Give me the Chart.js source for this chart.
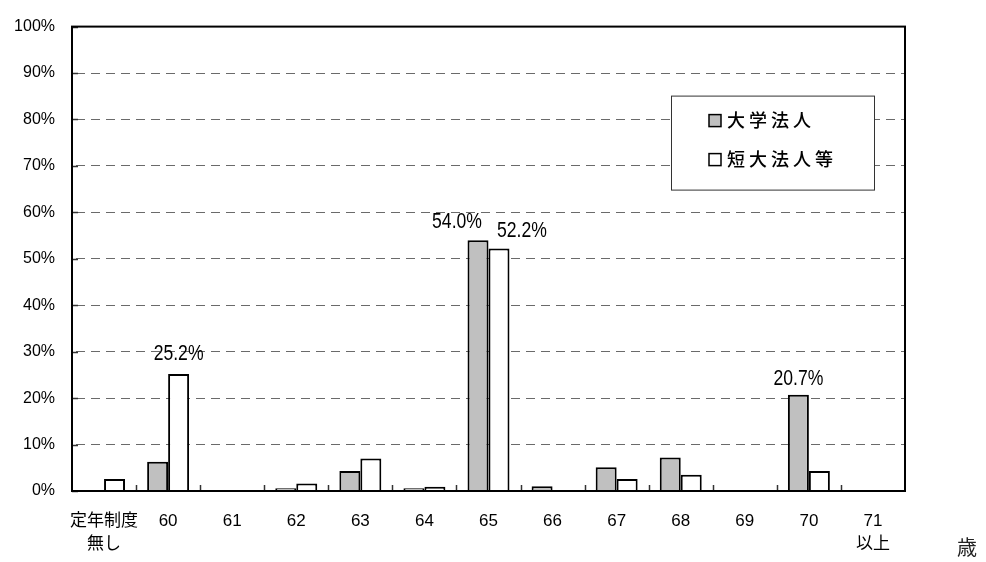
<!DOCTYPE html>
<html lang="ja">
<head>
<meta charset="utf-8">
<title>定年年齢の分布</title>
<script src="https://cdn.jsdelivr.net/npm/chart.js@4/dist/chart.umd.min.js"></script>
<style>
  html, body { margin: 0; padding: 0; background: #fff; }
  #wrap { width: 986px; height: 562px; }
</style>
</head>
<body>
<div id="wrap"><canvas id="c" width="986" height="562"></canvas></div>
<script>
// 定年年齢の区分
const categories = [
  ['定年制度', '無し'], '60', '61', '62', '63', '64', '65', '66', '67', '68', '69', '70', ['71', '以上']
];
// 系列名
const seriesNames = ['大学法人', '短大法人等'];
// 割合（%）
const univValues   = [0, 6.3, 0, 0.6, 4.3, 0.6, 54.0, 1.0, 5.1, 7.2, 0, 20.7, 0.2];
const juniorValues = [2.6, 25.2, 0, 1.6, 7.0, 0.9, 52.2, 0, 2.6, 3.5, 0, 4.3, 0];
// y軸目盛
const yTicks = [0, 10, 20, 30, 40, 50, 60, 70, 80, 90, 100];
// 値を表示する棒（系列番号, 区分番号）
const labelled = [[1, 1], [0, 6], [1, 6], [0, 11]];

const FONT = "'Liberation Sans', 'Noto Sans CJK JP', sans-serif";

// 値ラベルの位置調整
const labelOffsets = { '1-1': [0, 20], '0-6': [-21, 18], '1-6': [23, 18], '0-11': [0, 16] };

const framePlugin = {
  id: 'frame',
  afterDatasetsDraw(chart) {
    const { ctx, chartArea: a, scales } = chart;
    const x = scales.x, y = scales.y;
    ctx.save();
    // 目盛（内向き）
    ctx.strokeStyle = '#333';
    ctx.lineWidth = 1.5;
    for (let i = 1; i < categories.length; i++) {
      const bx = Math.round((x.getPixelForValue(i - 1) + x.getPixelForValue(i)) / 2) + 0.5;
      ctx.beginPath();
      ctx.moveTo(bx, a.bottom);
      ctx.lineTo(bx, a.bottom - 6);
      ctx.stroke();
    }
    yTicks.forEach(v => {
      const py = Math.round(y.getPixelForValue(v)) + 0.5;
      ctx.beginPath();
      ctx.moveTo(a.left, py);
      ctx.lineTo(a.left + 6, py);
      ctx.stroke();
    });
    // 枠線
    ctx.strokeStyle = '#000';
    ctx.lineWidth = 2;
    ctx.strokeRect(a.left, a.top, a.right - a.left, a.bottom - a.top);

    // 値ラベル
    ctx.fillStyle = '#000';
    ctx.font = '22px ' + FONT;
    ctx.textAlign = 'center';
    ctx.textBaseline = 'middle';
    labelled.forEach(([ds, i]) => {
      const bar = chart.getDatasetMeta(ds).data[i];
      const v = chart.data.datasets[ds].data[i];
      const off = labelOffsets[ds + '-' + i] || [0, 18];
      ctx.save();
      ctx.translate(bar.x + off[0], bar.y - off[1]);
      ctx.scale(0.8, 1);
      ctx.fillText(v.toFixed(1) + '%', 0, 0);
      ctx.restore();
    });
    ctx.restore();
  },
  afterDraw(chart) {
    const { ctx, chartArea: a } = chart;
    ctx.save();
    // 凡例
    const bx = a.right - 234, by = a.top + 69, bw = 203, bh = 94;
    ctx.fillStyle = '#fff';
    ctx.fillRect(bx, by, bw, bh);
    ctx.strokeStyle = '#333';
    ctx.lineWidth = 1;
    ctx.strokeRect(bx + 0.5, by + 0.5, bw, bh);
    chart.data.datasets.forEach((ds, k) => {
      const cy = by + 25 + k * 39;
      ctx.fillStyle = ds.backgroundColor;
      ctx.fillRect(bx + 38, cy - 6, 12, 12);
      ctx.strokeStyle = '#000';
      ctx.lineWidth = 1.5;
      ctx.strokeRect(bx + 38, cy - 6, 12, 12);
      ctx.fillStyle = '#000';
      ctx.font = '500 18px ' + FONT;
      ctx.letterSpacing = '4px';
      ctx.textAlign = 'left';
      ctx.textBaseline = 'middle';
      ctx.fillText(ds.label, bx + 56, cy + 1);
    });
    ctx.letterSpacing = '0px';
    // 単位
    ctx.fillStyle = '#222';
    ctx.font = '20px ' + FONT;
    ctx.textAlign = 'center';
    ctx.textBaseline = 'middle';
    ctx.fillText('歳', a.right + 62, a.bottom + 58);
    ctx.restore();
  }
};

new Chart(document.getElementById('c'), {
  type: 'bar',
  data: {
    labels: categories,
    datasets: [
      { label: seriesNames[0], data: univValues, backgroundColor: '#c0c0c0', borderColor: '#000', borderWidth: 2 },
      { label: seriesNames[1], data: juniorValues, backgroundColor: '#ffffff', borderColor: '#000', borderWidth: 2 }
    ]
  },
  options: {
    responsive: false,
    animation: false,
    devicePixelRatio: 1,
    layout: { padding: { top: 24, right: 81, left: 0, bottom: 0 } },
    datasets: { bar: { categoryPercentage: 0.655, barPercentage: 1.0, borderSkipped: 'start' } },
    plugins: { legend: { display: false }, tooltip: { enabled: false } },
    scales: {
      x: {
        grid: { display: false, drawTicks: false },
        border: { display: false },
        ticks: {
          color: '#000',
          font: { family: FONT, size: 17, lineHeight: 1.35 },
          padding: 19,
          maxRotation: 0,
          autoSkip: false
        },
        afterFit(scale) { scale.height = 71; }
      },
      y: {
        min: 0,
        max: 100,
        afterBuildTicks(scale) { scale.ticks = yTicks.map(v => ({ value: v })); },
        grid: {
          color: (c) => (c.tick && (c.tick.value === 0 || c.tick.value === 100)) ? 'rgba(0,0,0,0)' : '#6a6a6a',
          lineWidth: 1,
          drawTicks: false
        },
        border: { display: false, dash: [9, 6], dashOffset: -4 },
        ticks: {
          color: '#000',
          font: { family: FONT, size: 16 },
          padding: 17,
          callback: (v) => v + '%'
        },
        afterFit(scale) { scale.width = 72; }
      }
    }
  },
  plugins: [framePlugin]
});
</script>
</body>
</html>
